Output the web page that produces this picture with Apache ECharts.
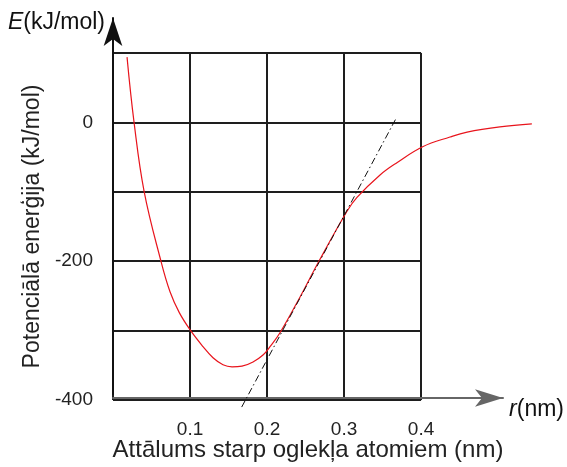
<!DOCTYPE html>
<html>
<head>
<meta charset="utf-8">
<script src="https://cdn.jsdelivr.net/npm/echarts@6.0.0/dist/echarts.min.js"></script>
</head>
<body style="margin:0;background:#fff;">
<div id="main" style="width:567px;height:467px;"></div>
<script>
// attālums (nm) un potenciālā enerģija (kJ/mol)
var rValues = [0.018, 0.027, 0.040, 0.0615, 0.0731, 0.085, 0.0996, 0.1154, 0.1282, 0.141, 0.1526, 0.1654, 0.1795, 0.1923, 0.2013, 0.2141, 0.24, 0.264, 0.3, 0.3128, 0.342, 0.364, 0.397, 0.432, 0.454, 0.496, 0.537];
var eValues = [94, 0, -100, -200, -244, -274, -300, -323, -339, -349, -352, -351, -345, -335, -323, -303, -251, -200, -128, -108, -76, -58, -35, -21, -14, -6.5, -2];
// pieskare
var tangentR = [0.165, 0.363];
var tangentE = [-410, 6];
var yTickLabels = [-400, -200, 0];

var chart = echarts.init(document.getElementById('main'));
var font = 'Liberation Sans, Arial, sans-serif';
var gridLine = { color: '#1e1e1e', width: 2 };
var hidden = { axisLine: { show: false, onZero: false }, axisTick: { show: false }, axisLabel: { show: false }, splitLine: { show: false } };

function pairs(xs, ys) {
    return xs.map(function (x, i) { return [x, ys[i]]; });
}

var option = {
    animation: false,
    textStyle: { fontFamily: font },
    grid: [
        { left: 113, top: 53, width: 312, height: 347 },
        { left: 113, top: 18, width: 390, height: 382 },
        { left: 113, top: 53, width: 429, height: 361 }
    ],
    xAxis: [{
        gridIndex: 0, type: 'value', min: 0, max: 0.4, interval: 0.1,
        axisLine: { show: false, onZero: false }, axisTick: { show: false },
        axisLabel: { margin: 20, fontSize: 19, color: '#222', showMinLabel: false },
        splitLine: { lineStyle: gridLine },
        name: '{i|r}(nm)', nameLocation: 'end', nameGap: 88,
        nameTextStyle: {
            fontSize: 23, color: '#111', padding: [20, 0, 0, 0],
            rich: { i: { fontSize: 23, fontStyle: 'italic', color: '#111' } }
        }
    }, {
        gridIndex: 1, type: 'value', min: 0, max: 0.5, offset: 4,
        axisLine: { show: true, onZero: false, symbol: ['none', 'arrow'], symbolSize: [13, 28], lineStyle: { color: '#666', width: 2 } },
        axisTick: { show: false }, axisLabel: { show: false }, splitLine: { show: false },
        name: 'Attālums starp oglekļa atomiem (nm)', nameLocation: 'middle', nameGap: 40,
        nameTextStyle: { fontSize: 24, color: '#222' }
    }, Object.assign({ gridIndex: 2, type: 'value', min: 0, max: 0.55 }, hidden)],
    yAxis: [{
        gridIndex: 0, type: 'value', min: -400, max: 100, interval: 100,
        axisLine: { show: false, onZero: false }, axisTick: { show: false },
        axisLabel: {
            margin: 20, fontSize: 19, color: '#222',
            formatter: function (v) { return yTickLabels.indexOf(v) >= 0 ? String(v) : ''; }
        },
        splitLine: { lineStyle: gridLine },
        name: 'Potenciālā enerģija (kJ/mol)', nameLocation: 'middle', nameGap: 68,
        nameTextStyle: { fontSize: 23, color: '#222' }
    }, {
        gridIndex: 1, type: 'value', min: -400, max: 150,
        axisLine: { show: true, onZero: false, symbol: ['none', 'arrow'], symbolSize: [14, 28], lineStyle: { color: '#111', width: 2 } },
        axisTick: { show: false }, axisLabel: { show: false }, splitLine: { show: false },
        name: '{i|E}(kJ/mol)', nameLocation: 'end', nameGap: -5,
        nameTextStyle: {
            fontSize: 23, color: '#111', align: 'right', verticalAlign: 'middle', padding: [0, 8, 0, 0],
            rich: { i: { fontSize: 23, fontStyle: 'italic', color: '#111' } }
        }
    }, Object.assign({ gridIndex: 2, type: 'value', min: -420, max: 100 }, hidden)],
    series: [{
        type: 'line', xAxisIndex: 2, yAxisIndex: 2,
        data: pairs(rValues, eValues),
        smooth: 0.4, showSymbol: false,
        lineStyle: { color: '#e8141c', width: 1.2 }
    }, {
        type: 'line', xAxisIndex: 2, yAxisIndex: 2,
        data: pairs(tangentR, tangentE),
        showSymbol: false,
        lineStyle: { color: '#111', width: 1, type: [7, 3, 1.5, 3] }
    }]
};
chart.setOption(option);
</script>
</body>
</html>
